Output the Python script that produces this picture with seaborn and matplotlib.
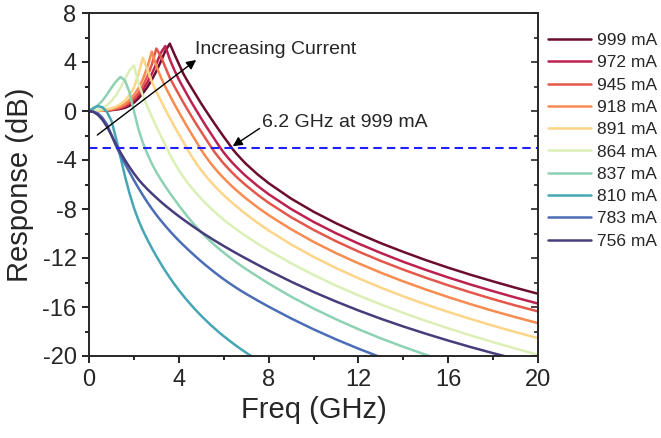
import pandas as pd
import seaborn as sns
import matplotlib.pyplot as plt
from matplotlib.ticker import MultipleLocator

# frequency grid (GHz) shared by all curves
freq = [0.0, 0.2, 0.4, 0.6, 0.8, 1.0, 1.2, 1.4, 1.6, 1.8,
        2.0, 2.2, 2.4, 2.6, 2.8, 3.0, 3.2, 3.4, 3.6, 3.8,
        4.0, 4.2, 4.4, 4.6, 4.8, 5.0, 5.2, 5.4, 5.6, 5.8,
        6.0, 6.2, 6.4, 6.6, 6.8, 7.0,
        7.5, 8, 9, 10, 11, 12, 13, 14, 15, 16, 17, 18, 19, 20]

# response (dB), one list per bias current
resp_999 = [0, 0.0, 0.01, 0.02, 0.04, 0.07, 0.11, 0.17, 0.26, 0.42,
            0.68, 1.02, 1.45, 1.95, 2.55, 3.25, 4.05, 4.9, 5.5, 4.65,
            3.85, 3.05, 2.4, 1.8, 1.2, 0.6, 0.04, -0.51, -1.05, -1.58,
            -2.1, -2.6, -3.12, -3.55, -3.95, -4.33,
            -5.16, -5.89, -7.15, -8.22, -9.16, -10.01, -10.79, -11.5, -12.17,
            -12.79, -13.37, -13.91, -14.43, -14.92]
resp_972 = [0, 0.0, 0.01, 0.03, 0.05, 0.09, 0.14, 0.22, 0.35, 0.55,
            0.85, 1.25, 1.75, 2.35, 3.05, 3.85, 4.75, 5.3, 4.21, 3.35,
            2.57, 1.9, 1.24, 0.6, -0.01, -0.61, -1.2, -1.76, -2.32, -2.88,
            -3.39, -3.84, -4.25, -4.63, -4.99, -5.33,
            -6.10, -6.79, -8.0, -9.05, -9.98, -10.82, -11.59, -12.31, -12.97,
            -13.59, -14.17, -14.71, -15.23, -15.72]
resp_945 = [0, 0.0, 0.01, 0.04, 0.07, 0.11, 0.18, 0.28, 0.44, 0.68,
            1.02, 1.45, 2.05, 2.85, 3.8, 5.1, 4.46, 3.57, 2.71, 2.02,
            1.36, 0.7, 0.08, -0.53, -1.13, -1.7, -2.27, -2.83, -3.37, -3.84,
            -4.29, -4.69, -5.07, -5.43, -5.76, -6.08,
            -6.82, -7.49, -8.67, -9.70, -10.63, -11.47, -12.24, -12.95, -13.61,
            -14.23, -14.81, -15.36, -15.88, -16.36]
resp_918 = [0, 0.0, 0.02, 0.05, 0.09, 0.15, 0.24, 0.38, 0.58, 0.88,
            1.3, 1.85, 2.6, 3.6, 4.85, 3.68, 2.75, 1.97, 1.27, 0.57,
            -0.09, -0.73, -1.36, -1.97, -2.57, -3.18, -3.72, -4.22, -4.67, -5.09,
            -5.48, -5.85, -6.2, -6.53, -6.84, -7.15,
            -7.85, -8.50, -9.65, -10.68, -11.6, -12.43, -13.2, -13.91, -14.57,
            -15.19, -15.77, -16.32, -16.83, -17.32]
resp_891 = [0, 0.01, 0.03, 0.07, 0.13, 0.22, 0.36, 0.56, 0.85, 1.28,
            1.9, 3.0, 4.35, 3.37, 2.39, 1.58, 0.84, 0.12, -0.57, -1.25,
            -1.89, -2.52, -3.17, -3.78, -4.34, -4.84, -5.30, -5.73, -6.13, -6.51,
            -6.87, -7.21, -7.53, -7.84, -8.14, -8.43,
            -9.11, -9.75, -10.89, -11.9, -12.82, -13.65, -14.42, -15.13, -15.79,
            -16.4, -16.98, -17.53, -18.05, -18.54]
resp_864 = [0, 0.03, 0.1, 0.25, 0.48, 0.82, 1.27, 1.88, 2.6, 3.3,
            3.72, 2.27, 1.25, 0.37, -0.46, -1.26, -2.03, -2.77, -3.55, -4.22,
            -4.82, -5.37, -5.87, -6.33, -6.76, -7.16, -7.54, -7.9, -8.24, -8.56,
            -8.87, -9.16, -9.44, -9.71, -9.97, -10.22,
            -10.82, -11.38, -12.43, -13.38, -14.25, -15.05, -15.79, -16.48, -17.13,
            -17.74, -18.32, -18.87, -19.39, -19.9]
resp_837 = [0, 0.2, 0.48, 0.85, 1.35, 1.9, 2.4, 2.78, 2.5, 1.55,
            0.0, -1.45, -2.6, -3.5, -4.3, -5.0, -5.6, -6.15, -6.7, -7.2,
            -7.7, -8.18, -8.64, -9.08, -9.5, -9.9, -10.27, -10.62, -10.95, -11.26,
            -11.56, -11.85, -12.13, -12.4, -12.66, -12.91,
            -13.5, -14.08, -15.15, -16.12, -17.0, -17.81, -18.56, -19.25, -19.9,
            -20.5, -21.06, -21.58, -22.08, -22.55]
resp_810 = [0, 0.25, 0.4, 0.3, -0.08, -0.8, -2.2, -3.75, -5.3, -6.7,
            -7.9, -8.9, -9.75, -10.5, -11.2, -11.85, -12.47, -13.06, -13.61, -14.13,
            -14.62, -15.08, -15.52, -15.94, -16.34, -16.72, -17.08, -17.43, -17.76, -18.08,
            -18.38, -18.67, -18.95, -19.22, -19.48, -19.73,
            -20.33, -20.9, -21.95, -22.9, -23.75, -24.5, -25.2, -25.8, -26.4,
            -26.95, -27.45, -27.95, -28.4, -28.8]
resp_783 = [0, -0.05, -0.2, -0.55, -1.1, -1.95, -2.85, -3.6, -4.3, -4.98,
            -5.65, -6.28, -6.88, -7.45, -7.98, -8.48, -8.94, -9.38, -9.8, -10.2,
            -10.58, -10.94, -11.29, -11.63, -11.96, -12.28, -12.59, -12.89, -13.18, -13.46,
            -13.73, -13.99, -14.24, -14.48, -14.71, -14.93,
            -15.46, -15.97, -16.93, -17.82, -18.64, -19.4, -20.11, -20.77, -21.39,
            -21.97, -22.52, -23.04, -23.53, -24.0]
resp_756 = [0, -0.08, -0.32, -0.72, -1.28, -1.98, -2.72, -3.38, -4.0, -4.57,
            -5.1, -5.58, -6.0, -6.38, -6.74, -7.08, -7.41, -7.72, -8.02, -8.31,
            -8.59, -8.86, -9.12, -9.38, -9.63, -9.88, -10.12, -10.35, -10.58, -10.8,
            -11.02, -11.23, -11.44, -11.65, -11.85, -12.05,
            -12.54, -13.02, -13.93, -14.77, -15.55, -16.28, -16.96, -17.59, -18.18,
            -18.74, -19.27, -19.77, -20.24, -20.69]

currents = ['999 mA', '972 mA', '945 mA', '918 mA', '891 mA',
            '864 mA', '837 mA', '810 mA', '783 mA', '756 mA']
colors = ['#6b0d2e', '#bd2150', '#e4574a', '#f88b50', '#fdd588',
          '#dcefb6', '#8dd2b3', '#46a6b5', '#4a6db6', '#453d7c']
cutoff_db = -3

series = [resp_999, resp_972, resp_945, resp_918, resp_891,
          resp_864, resp_837, resp_810, resp_783, resp_756]
frames = []
for name, vals in zip(currents, series):
    frames.append(pd.DataFrame({'Freq': freq, 'Response': vals, 'Current': name}))
df = pd.concat(frames, ignore_index=True)

sns.set_style('ticks')
plt.rcParams['font.family'] = ['Liberation Sans', 'DejaVu Sans']
plt.rcParams['axes.unicode_minus'] = False

fig = plt.figure(figsize=(6.61, 4.38), dpi=100)
ax = fig.add_axes([89 / 661, 82 / 438, 449 / 661, 343 / 438])

sns.lineplot(data=df, x='Freq', y='Response', hue='Current', hue_order=currents,
             palette=dict(zip(currents, colors)), estimator=None, sort=False,
             lw=1.8, ax=ax)

ax.axhline(cutoff_db, color='#1f1fff', lw=1.5, ls=(0, (4, 2.5)))

ax.set_xlim(0, 20)
ax.set_ylim(-20, 8)
ax.xaxis.set_major_locator(MultipleLocator(4))
ax.xaxis.set_minor_locator(MultipleLocator(2))
ax.yaxis.set_major_locator(MultipleLocator(4))
ax.yaxis.set_minor_locator(MultipleLocator(2))
ax.tick_params(which='major', length=5, width=1.2, labelsize=17, pad=4, color='black')
ax.tick_params(which='minor', length=3, width=1.2, color='black')
for sp in ax.spines.values():
    sp.set_linewidth(1.2)
    sp.set_visible(True)

# inward ticks on the right side
ax2 = ax.twinx()
ax2.set_ylim(-20, 8)
ax2.yaxis.set_major_locator(MultipleLocator(4))
ax2.yaxis.set_minor_locator(MultipleLocator(2))
ax2.tick_params(axis='y', which='both', direction='in', labelright=False, width=1.2)
ax2.tick_params(axis='y', which='major', length=5)
ax2.tick_params(axis='y', which='minor', length=3)
for sp in ax2.spines.values():
    sp.set_linewidth(1.2)

ax.set_xlabel('Freq (GHz)', fontsize=21, labelpad=4)
ax.set_ylabel('Response (dB)', fontsize=21, labelpad=6)

ax.annotate('', xy=(4.87, 4.3), xytext=(0.27, -2.1),
            arrowprops=dict(arrowstyle='-|>', color='black', lw=1, mutation_scale=14))
ax.text(4.72, 5.0, 'Increasing Current', fontsize=14, va='center', ha='left')
ax.annotate('', xy=(6.3, -3.0), xytext=(7.7, -1.3),
            arrowprops=dict(arrowstyle='-|>', color='black', lw=1, mutation_scale=14))
ax.text(7.7, -0.9, '6.2 GHz at 999 mA', fontsize=14, va='center', ha='left')

handles, labels = ax.get_legend_handles_labels()
ax.legend(handles, labels, loc='upper left', bbox_to_anchor=(548 / 661, 1 - 33 / 438),
          bbox_transform=fig.transFigure, frameon=False, fontsize=12.5,
          handlelength=2.5, handletextpad=0.3, labelspacing=0.41,
          borderpad=0, borderaxespad=0)

fig.savefig('out.png', dpi=100)
